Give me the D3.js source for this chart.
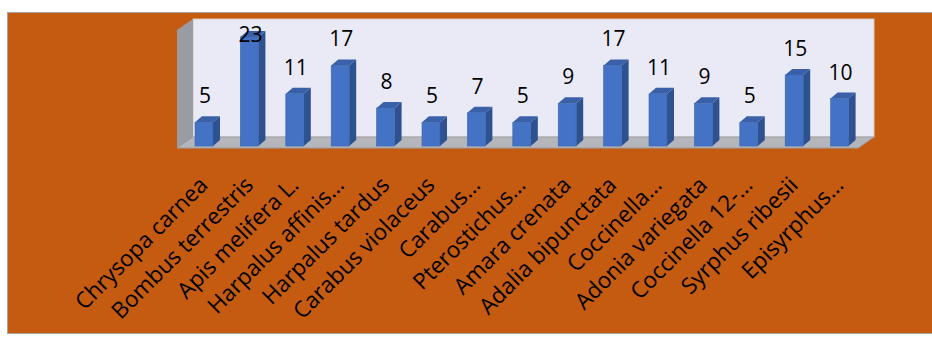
<!DOCTYPE html>
<head>
<meta charset="utf-8">
<style>
  html,body { margin:0; padding:0; background:#fff; }
  svg { display:block; font-family: "Open Sans", "Noto Sans", sans-serif; }
</style>
<script src="https://d3js.org/d3.v7.min.js"></script>
</head>
<body>
<div id="viz"></div>
<script>
// data
var species = ["Chrysopa carnea", "Bombus terrestris", "Apis melifera L.", "Harpalus affinis…",
  "Harpalus tardus", "Carabus violaceus", "Carabus…", "Pterostichus…", "Amara crenata",
  "Adalia bipunctata", "Coccinella…", "Adonia variegata", "Coccinella 12-…", "Syrphus ribesii",
  "Episyrphus…"];
var counts = [5, 23, 11, 17, 8, 5, 7, 5, 9, 17, 11, 9, 5, 15, 10];

var width = 932, height = 340;
var dx = 16, dy = 11;   // depth of the 3d box
var bdx = 7, bdy = 6;   // depth of each bar

var svg = d3.select("#viz").append("svg")
  .attr("width", width)
  .attr("height", height);

// orange chart area
svg.append("rect")
  .attr("x", 7.5).attr("y", 12.5)
  .attr("width", width).attr("height", 321)
  .attr("fill", "#c55a11")
  .attr("stroke", "#a6a6a6");

var x = d3.scaleBand()
  .domain(species)
  .range([177, 858]);

var y = d3.scaleLinear()
  .domain([0, 23])
  .range([146, 37]);

var floorY = 148;

// back wall
svg.append("rect")
  .attr("x", x.range()[0] + dx).attr("y", 19)
  .attr("width", x.range()[1] - x.range()[0]).attr("height", floorY - dy - 19)
  .attr("fill", "#e9eaf5")
  .attr("stroke", "#d9c8c0");

// left wall
var x0 = x.range()[0];
svg.append("polygon")
  .attr("points", [[x0, 19 + dy], [x0 + dx, 19], [x0 + dx, floorY - dy], [x0, floorY]].join(" "))
  .attr("fill", "#9a9ca3");

// floor
var x1 = x.range()[1];
svg.append("polygon")
  .attr("points", [[x0, floorY], [x0 + dx, floorY - dy], [x1 + dx, floorY - dy], [x1, floorY]].join(" "))
  .attr("fill", "#b4b6bc")
  .attr("stroke", "#9d9fa5");

// bars
var bw = 18;
var bars = svg.selectAll("g.bar")
  .data(species)
  .enter().append("g")
  .attr("class", "bar");

bars.each(function (d, i) {
  var g = d3.select(this);
  var left = x(d) + 18, top = y(counts[i]), base = y(0);
  // side
  g.append("polygon")
    .attr("points", [[left + bw, top], [left + bw + bdx, top - bdy], [left + bw + bdx, base - bdy], [left + bw, base]].join(" "))
    .attr("fill", "#2e5190");
  // top
  g.append("polygon")
    .attr("points", [[left, top], [left + bdx, top - bdy], [left + bw + bdx, top - bdy], [left + bw, top]].join(" "))
    .attr("fill", "#3a60a8");
  // front
  g.append("rect")
    .attr("x", left).attr("y", top)
    .attr("width", bw).attr("height", base - top)
    .attr("fill", "#4472c4")
    .attr("stroke", "#3b63ad").attr("stroke-width", 0.6);
});

// value labels
svg.selectAll("text.val")
  .data(species)
  .enter().append("text")
  .attr("class", "val")
  .attr("x", function (d) { return x(d) + 18 + bw / 2 + 1; })
  .attr("y", function (d, i) { return Math.max(y(counts[i]) - 19, 42); })
  .attr("text-anchor", "middle")
  .attr("font-size", "21px")
  .attr("fill", "#000")
  .text(function (d, i) { return counts[i]; });

// category labels, rotated
svg.selectAll("text.cat")
  .data(species)
  .enter().append("text")
  .attr("class", "cat")
  .attr("transform", function (d) {
    return "translate(" + (x(d) + x.bandwidth() / 2 - 2) + "," + 175 + ") rotate(-45)";
  })
  .attr("text-anchor", "end")
  .attr("dy", "0.72em")
  .attr("font-size", "22.5px")
  .attr("fill", "#000")
  .text(function (d) { return d; });
</script>
</body>
</html>
